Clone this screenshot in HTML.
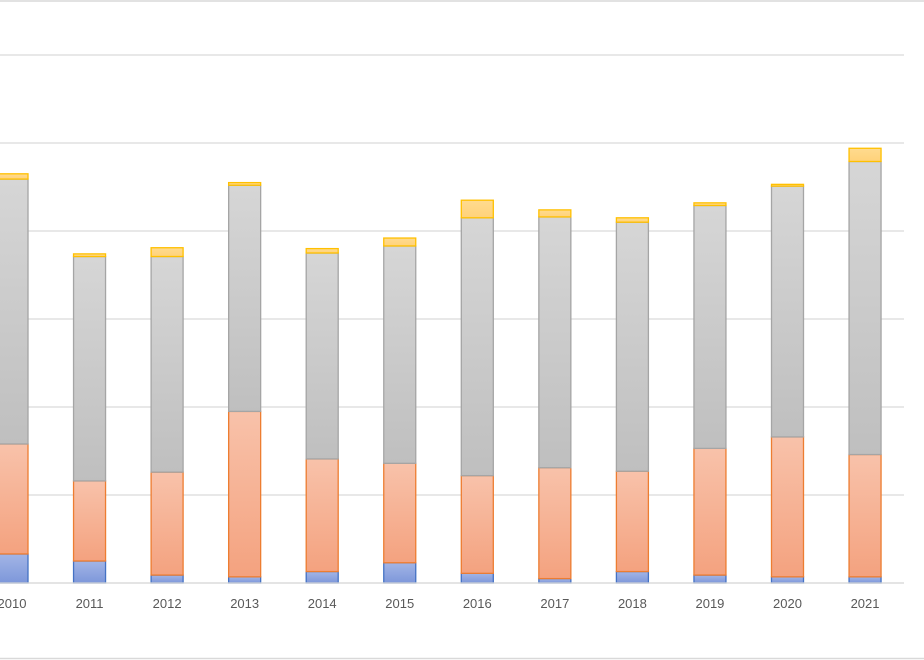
<!DOCTYPE html>
<html><head><meta charset="utf-8"><style>
html,body{margin:0;padding:0;background:#fff;}
svg{display:block;font-family:"Liberation Sans",Calibri,sans-serif;}
</style></head><body>
<svg id="chart" width="924" height="660" viewBox="0 0 924 660" xmlns="http://www.w3.org/2000/svg">
<defs>
<linearGradient id="gBlue" x1="0" y1="0" x2="0" y2="1"><stop offset="0" stop-color="#a3b5e6"/><stop offset="1" stop-color="#7d97da"/></linearGradient>
<linearGradient id="gOrange" x1="0" y1="0" x2="0" y2="1"><stop offset="0" stop-color="#f8c2aa"/><stop offset="1" stop-color="#f4a27f"/></linearGradient>
<linearGradient id="gGray" x1="0" y1="0" x2="0" y2="1"><stop offset="0" stop-color="#d6d6d6"/><stop offset="1" stop-color="#bfbfbf"/></linearGradient>
<linearGradient id="gYellow" x1="0" y1="0" x2="0" y2="1"><stop offset="0" stop-color="#ffdb8f"/><stop offset="1" stop-color="#ffd27a"/></linearGradient>
</defs>
<line x1="0" y1="1" x2="924" y2="1" stroke="#d9d9d9" stroke-width="1.5"/>
<line x1="0" y1="658.5" x2="924" y2="658.5" stroke="#d9d9d9" stroke-width="1.5"/>
<g id="grid"></g>
<g id="bars"></g>
<g id="labels"></g>
</svg>
<script>
const categories = ["2010","2011","2012","2013","2014","2015","2016","2017","2018","2019","2020","2021"];
const seriesA = [3.3,2.5,0.9,0.7,1.3,2.3,1.1,0.5,1.3,0.9,0.7,0.7];
const seriesB = [12.5,9.1,11.7,18.8,12.8,11.3,11.1,12.6,11.4,14.4,15.9,13.9];
const seriesC = [30.1,25.5,24.5,25.7,23.4,24.7,29.3,28.5,28.3,27.6,28.5,33.3];
const seriesD = [0.6,0.3,1.0,0.3,0.5,0.9,2.0,0.8,0.5,0.3,0.2,1.5];
const gridTicks = [0,10,20,30,40,50,60];

const NS = "http://www.w3.org/2000/svg";
const baseY = 583, pxPerUnit = 8.8;
const y = v => baseY - v * pxPerUnit;
const x0 = 12, step = 77.55, barW = 32;
const xc = i => x0 + i * step;

const grid = document.getElementById('grid');
gridTicks.forEach(t => {
  const l = document.createElementNS(NS, 'line');
  
  
  l.setAttribute('x1', 0); l.setAttribute('x2', 904);
  l.setAttribute('y1', y(t)); l.setAttribute('y2', y(t));
  l.setAttribute('stroke', '#d9d9d9'); l.setAttribute('stroke-width', 1.3);
  grid.appendChild(l);
});

const series = [
  {name:'a', vals:seriesA, fill:'url(#gBlue)', stroke:'#4472c4'},
  {name:'b', vals:seriesB, fill:'url(#gOrange)', stroke:'#ed7d31'},
  {name:'c', vals:seriesC, fill:'url(#gGray)', stroke:'#a5a5a5'},
  {name:'d', vals:seriesD, fill:'url(#gYellow)', stroke:'#ffc000'}
];
const bars = document.getElementById('bars');
const labels = document.getElementById('labels');
categories.forEach((c, i) => {
  let cum = 0;
  series.forEach(s => {
    const v = s.vals[i];
    const r = document.createElementNS(NS, 'rect');
    
    
    r.setAttribute('x', xc(i) - barW / 2);
    r.setAttribute('y', y(cum + v));
    r.setAttribute('width', barW);
    r.setAttribute('height', v * pxPerUnit);
    r.setAttribute('fill', s.fill);
    r.setAttribute('stroke', s.stroke);
    r.setAttribute('stroke-width', 1.3);
    bars.appendChild(r);
    cum += v;
  });
  const t = document.createElementNS(NS, 'text');
  
  
  t.setAttribute('x', xc(i)); t.setAttribute('y', 608);
  t.setAttribute('text-anchor', 'middle');
  t.setAttribute('font-size', '13'); t.setAttribute('fill', '#595959');
  t.textContent = c;
  labels.appendChild(t);
});
const ax = document.createElementNS(NS, 'line');


ax.setAttribute('x1', 0); ax.setAttribute('x2', 904);
ax.setAttribute('y1', baseY); ax.setAttribute('y2', baseY);
ax.setAttribute('stroke', '#d9d9d9'); ax.setAttribute('stroke-width', 1.3);
labels.appendChild(ax);
</script>
</body></html>
